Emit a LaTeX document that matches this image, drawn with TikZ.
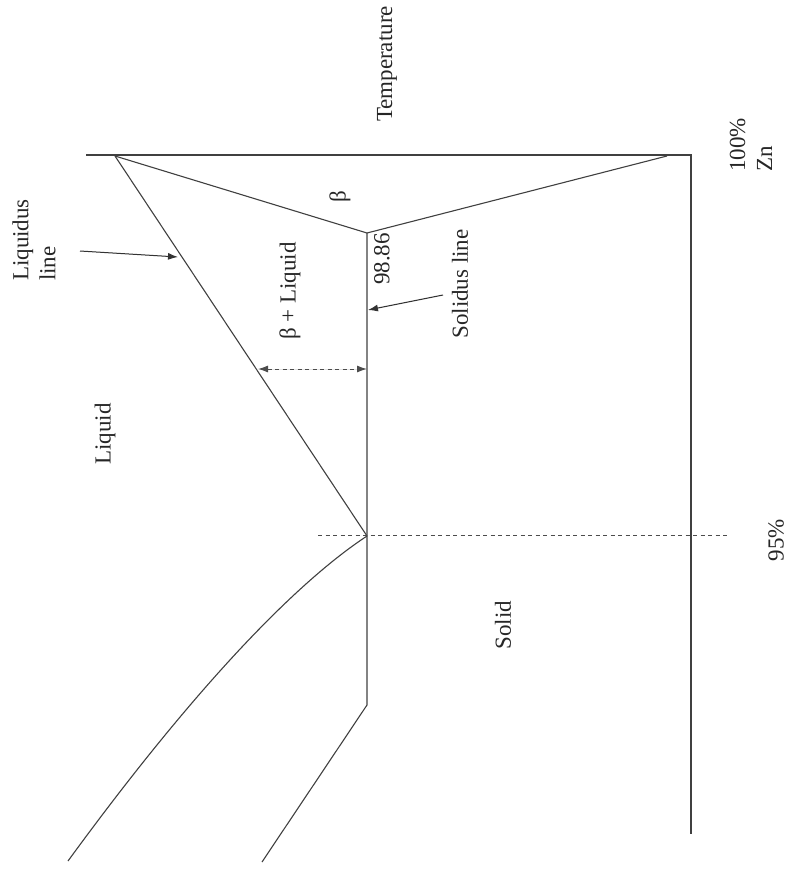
\documentclass[tikz,border=0pt]{standalone}
\usepackage{fontspec}
\setmainfont{Liberation Serif}
\usetikzlibrary{arrows.meta}
\begin{document}
\begin{tikzpicture}[x=1pt,y=-1pt,
  ln/.style={line width=1.1pt, draw=black!75},
  lbl/.style={font=\fontsize{23}{27}\selectfont, rotate=90, inner sep=0pt, text=black!85},
  tipar/.style={-{Latex[length=10pt,width=7pt]}, line width=1pt, draw=black!80, fill=black!80},
  dsh/.style={line width=1pt, draw=black!70, dash pattern=on 4pt off 3.5pt}]
\useasboundingbox (0,0) rectangle (794,871);
% key points
\coordinate (tl) at (86,155);
\coordinate (tr) at (691,155);
\coordinate (br) at (691,834);
\coordinate (ltop) at (115,156);
\coordinate (rtop) at (667,156);
\coordinate (b) at (367,233);
\coordinate (eu) at (367,536);
\coordinate (sb) at (367,705);
\coordinate (se) at (262,862);
\coordinate (ce) at (68,861);
\coordinate (dl) at (318,535);
\coordinate (dr) at (727,535);
\coordinate (la) at (80,251);
\coordinate (lb) at (178,257);
\coordinate (sa) at (443,295);
\coordinate (sbb) at (368,310);
\coordinate (da) at (258,369);
\coordinate (db) at (367,369);
% frame
\draw[ln] (tl) -- (tr) -- (br);
% beta region
\draw[ln] (ltop) -- (b) -- (rtop);
% liquidus
\draw[ln] (ltop) -- (eu);
% solidus vertical and lower line
\draw[ln] (b) -- (sb) -- (se);
% curve from eutectic
\draw[ln] (eu) .. controls (300,580) and (200,680) .. (ce);
% dashed 95% line
\draw[dsh] (dl) -- (dr);
% arrows
\draw[tipar] (la) -- (lb);
\draw[tipar] (sa) -- (sbb);
\draw[dsh, {Latex[length=10pt,width=7pt]}-{Latex[length=10pt,width=7pt]}, fill=black!80] (da) -- (db);
% labels
\node[lbl] (temp) at (387,64) {Temperature};
\node[lbl, align=left] (liqlbl) at (34,240) {Liquidus\\line};
\node[lbl, align=left] (zn) at (751,145) {100\%\\Zn};
\node[lbl] (beta) at (340,197) {β};
\node[lbl] (bl) at (290,291) {β + Liquid};
\node[lbl] (num) at (382,259) {98.86};
\node[lbl] (sol) at (460,284) {Solidus line};
\node[lbl] (liq) at (105,434) {Liquid};
\node[lbl] (solid) at (503,625) {Solid};
\node[lbl] (pct) at (776,540) {95\%};
\end{tikzpicture}
\end{document}
